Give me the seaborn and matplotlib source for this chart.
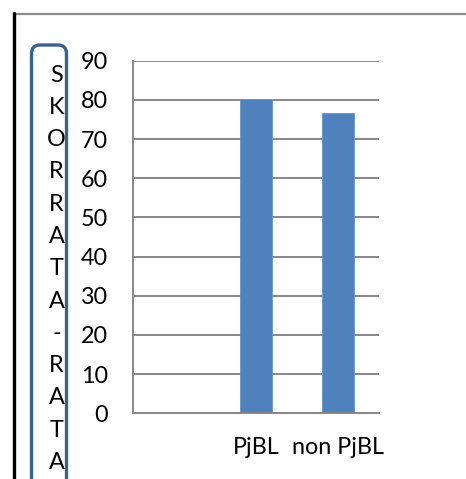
import matplotlib
matplotlib.use("Agg")
import matplotlib.pyplot as plt
from matplotlib.patches import FancyBboxPatch
from matplotlib.lines import Line2D
import seaborn as sns
import pandas as pd

# data
categories = ["", "PjBL", "non PjBL"]
groups = ["PjBL", "non PjBL"]
scores = [80.2, 76.6]
y_ticks = [0, 10, 20, 30, 40, 50, 60, 70, 80, 90]
y_label = "SKORRATA-RATA"

sns.set_theme(style="white")
plt.rcParams["font.family"] = ["Lato", "DejaVu Sans"]

W, H = 466, 479
DPI = 100
fig = plt.figure(figsize=(W / DPI, H / DPI), dpi=DPI)
fig.patch.set_facecolor("white")


def fx(px):
    return px / W


def fy(py):
    return 1 - py / H


grid_col = "#878787"
bar_col = "#4F81BD"
fs = 16.8

# plot area
left, right, top, bottom = 133, 379, 60.7, 413.3
ax = fig.add_axes([fx(left), fy(bottom), fx(right - left), (bottom - top) / H])

df = pd.DataFrame({"group": groups, "score": scores})
sns.barplot(data=df, x="group", y="score", order=categories, color=bar_col,
            saturation=1, width=0.4, ax=ax, edgecolor="#6a95cc", linewidth=0.6)

ax.set_xlim(-0.5, len(categories) - 0.5)
ax.set_ylim(0, 90)
ax.set_yticks(y_ticks)
ax.set_yticklabels([str(v) for v in y_ticks], fontsize=fs, color="black")
ax.yaxis.grid(True, color=grid_col, linewidth=1.4)
ax.set_axisbelow(True)

ax.set_xticks(range(len(categories)))
ax.set_xticklabels(categories, fontsize=fs, color="black")
ax.set_xticks([i - 0.5 for i in range(len(categories) + 1)], minor=True)
ax.tick_params(axis="x", which="major", length=0, pad=17)
ax.tick_params(axis="x", which="minor", length=6.5, width=1.4, color=grid_col, direction="out")
ax.tick_params(axis="y", which="major", length=6, width=1.4, color=grid_col, direction="out", pad=12)
ax.set_xlabel("")
ax.set_ylabel("")

for side in ["top", "right"]:
    ax.spines[side].set_visible(False)
for side in ["left", "bottom"]:
    ax.spines[side].set_color(grid_col)
    ax.spines[side].set_linewidth(1.4)

# outer frame edges
fig.add_artist(Line2D([fx(14), fx(466)], [fy(14), fy(14)], color="#8c8c8c", linewidth=1.6))
fig.add_artist(Line2D([fx(14), fx(14)], [fy(13), fy(480)], color="black", linewidth=2.4))

# rounded label box
bx0, bx1, by0, by1 = 31.5, 66.5, 45, 540
box = FancyBboxPatch((fx(bx0), fy(by1)), fx(bx1 - bx0), (by1 - by0) / H,
                     boxstyle="round,pad=0,rounding_size=0.018",
                     transform=fig.transFigure, facecolor="none",
                     edgecolor="#3C6090", linewidth=2.4, mutation_aspect=H / W)
fig.add_artist(box)

# stacked vertical label
step = 32.3
for i, ch in enumerate(y_label):
    fig.text(fx(56.5), fy(75 + i * step), ch, ha="center", va="center",
             fontsize=fs, color="black")

fig.savefig("out.png", dpi=DPI)
